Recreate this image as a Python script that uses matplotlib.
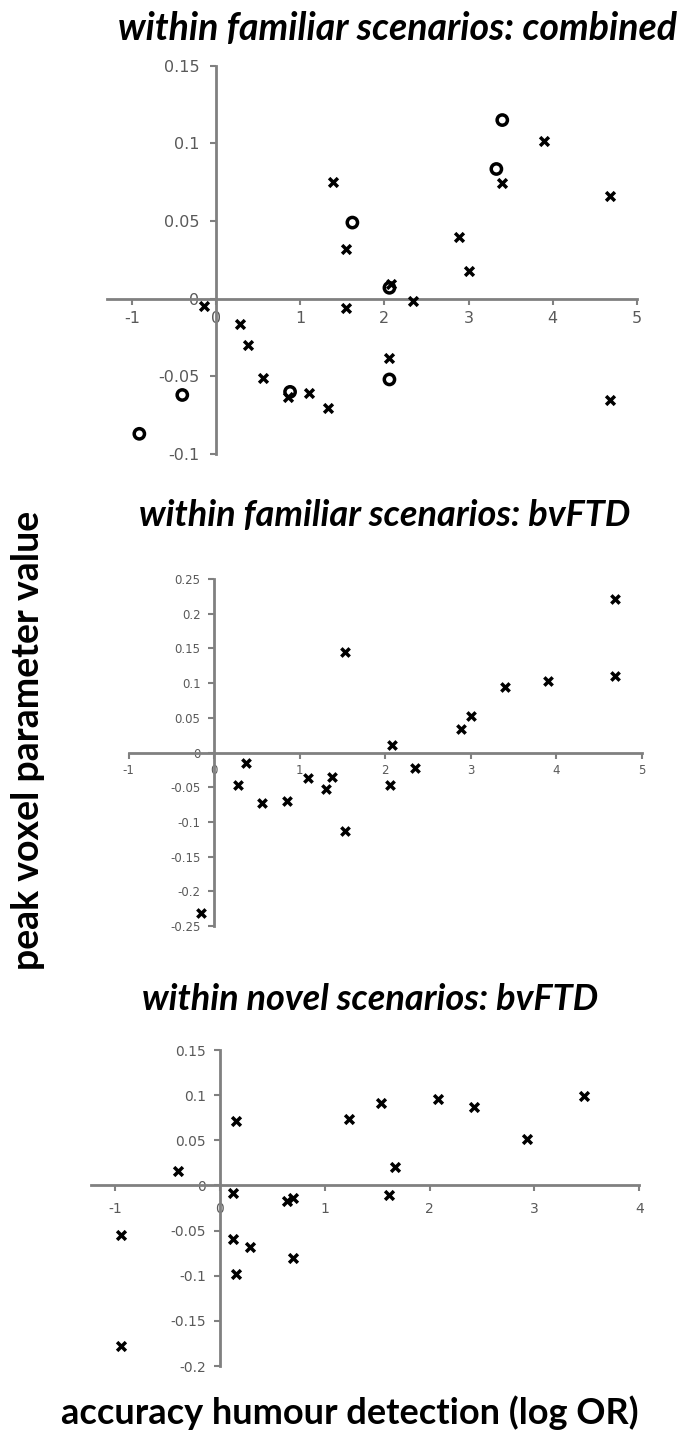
import matplotlib.pyplot as plt

# panel 1: within familiar scenarios, combined
comb_cross_x = [-0.14, 0.29, 0.38, 0.56, 0.85, 1.10, 1.33, 1.39, 1.54, 1.54, 2.05, 2.08,
                2.34, 2.89, 3.00, 3.40, 3.90, 4.68, 4.68]
comb_cross_y = [-0.005, -0.0165, -0.030, -0.051, -0.063, -0.061, -0.0705, 0.075, 0.032, -0.006,
                -0.038, 0.0096, -0.0015, 0.040, 0.0175, 0.0745, 0.1017, 0.066, -0.065]
comb_circ_x = [-0.91, -0.40, 0.88, 1.62, 2.06, 2.06, 3.33, 3.40]
comb_circ_y = [-0.087, -0.062, -0.060, 0.049, 0.007, -0.052, 0.0835, 0.115]

# panel 2: within familiar scenarios, bvFTD
fam_x = [-0.16, 0.28, 0.37, 0.56, 0.85, 1.10, 1.31, 1.38, 1.53, 1.53, 2.08, 2.05,
         2.35, 2.89, 3.00, 3.40, 3.90, 4.69, 4.69]
fam_y = [-0.231, -0.0475, -0.015, -0.0726, -0.0706, -0.037, -0.0533, -0.0351, 0.1445, -0.1134,
         0.011, -0.0475, -0.0226, 0.034, 0.0527, 0.0937, 0.1027, 0.1104, 0.2209]

# panel 3: within novel scenarios, bvFTD
nov_x = [-0.94, -0.94, -0.40, 0.15, 0.12, 0.12, 0.29, 0.15, 0.64, 0.70, 0.70, 1.23,
         1.54, 1.67, 1.61, 2.08, 2.42, 2.93, 3.47]
nov_y = [-0.178, -0.0553, 0.0163, 0.0719, -0.0081, -0.059, -0.0686, -0.098, -0.0173, -0.014,
         -0.080, 0.0734, 0.0915, 0.0207, -0.0106, 0.0952, 0.0867, 0.0513, 0.0985]

titles = ["within familiar scenarios: combined",
          "within familiar scenarios: bvFTD",
          "within novel scenarios: bvFTD"]

yt1 = [-0.1, -0.05, 0, 0.05, 0.1, 0.15]
yl1 = ["-0.1", "-0.05", "0", "0.05", "0.1", "0.15"]
xt1 = [-1, 0, 1, 2, 3, 4, 5]
yt2 = [-0.25, -0.2, -0.15, -0.1, -0.05, 0, 0.05, 0.1, 0.15, 0.2, 0.25]
yl2 = ["-0.25", "-0.2", "-0.15", "-0.1", "-0.05", "0", "0.05", "0.1", "0.15", "0.2", "0.25"]
yt3 = [-0.2, -0.15, -0.1, -0.05, 0, 0.05, 0.1, 0.15]
yl3 = ["-0.2", "-0.15", "-0.1", "-0.05", "0", "0.05", "0.1", "0.15"]
xt3 = [-1, 0, 1, 2, 3, 4]

W, H = 684, 1436
axis_col = "#808080"
lab_col = "#595959"
tfont = "Lato"


def make_ax(fig, l, r, t, b):
    return fig.add_axes([l / W, 1 - b / H, (r - l) / W, (b - t) / H])


def style(ax, xlim, ylim, xt, yt, yl, fs, ypad, xpad):
    ax.set_xlim(*xlim)
    ax.set_ylim(*ylim)
    for s in ["top", "right"]:
        ax.spines[s].set_visible(False)
    for s in ["left", "bottom"]:
        ax.spines[s].set_position(("data", 0))
        ax.spines[s].set_color(axis_col)
        ax.spines[s].set_linewidth(2)
    ax.set_xticks(xt)
    ax.set_xticklabels([str(v) for v in xt])
    ax.set_yticks(yt)
    ax.set_yticklabels(yl)
    ax.tick_params(direction="out", length=4, width=1.5, color=axis_col,
                   labelcolor=lab_col, labelsize=fs)
    ax.tick_params(axis="y", pad=ypad)
    ax.tick_params(axis="x", pad=xpad)
    ax.patch.set_alpha(0)


fig = plt.figure(figsize=(W / 100, H / 100), dpi=100)

ax1 = make_ax(fig, 106.5, 637, 65.7, 454)
ax1.scatter(comb_cross_x, comb_cross_y, marker="x", s=40, color="black", linewidths=2.5, zorder=3)
ax1.scatter(comb_circ_x, comb_circ_y, marker="o", s=55, facecolors="none", edgecolors="black",
            linewidths=2.5, zorder=3)
style(ax1, (-1.3, 5), (-0.1, 0.15), xt1, yt1, yl1, 11.5, 8, 5)

ax2 = make_ax(fig, 128.8, 641.8, 579, 926)
ax2.scatter(fam_x, fam_y, marker="x", s=36, color="black", linewidths=2.5, zorder=3)
style(ax2, (-1, 5), (-0.25, 0.25), xt1, yt2, yl2, 8.5, 6, 4)

ax3 = make_ax(fig, 91, 639.3, 1050, 1366)
ax3.scatter(nov_x, nov_y, marker="x", s=40, color="black", linewidths=2.5, zorder=3)
style(ax3, (-1.23, 4), (-0.2, 0.15), xt3, yt3, yl3, 10, 6, 8)

tkw = dict(fontfamily=tfont, fontweight="bold", fontstyle="italic",
           ha="center", va="center", color="black")
fig.text(398 / W, 1 - 28 / H, titles[0], fontsize=27, **tkw)
fig.text(385 / W, 1 - 515 / H, titles[1], fontsize=26, **tkw)
fig.text(370 / W, 1 - 1000 / H, titles[2], fontsize=26, **tkw)

fig.text(28 / W, 1 - 740 / H, "peak voxel parameter value", rotation=90, fontfamily=tfont,
         fontweight="bold", fontsize=27, ha="center", va="center")
fig.text(350 / W, 1 - 1413 / H, "accuracy humour detection (log OR)", fontfamily=tfont,
         fontweight="bold", fontsize=26, ha="center", va="center")

fig.savefig("out.png", dpi=100)
